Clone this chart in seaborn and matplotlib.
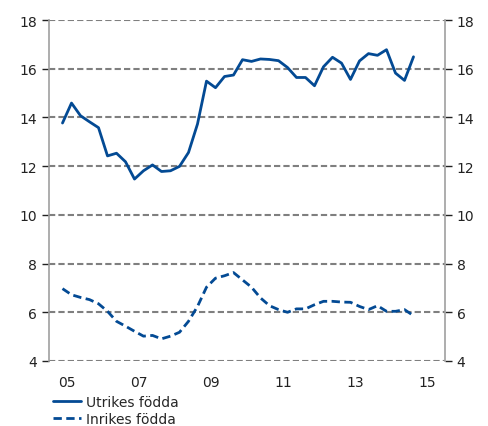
import numpy as np
import matplotlib.pyplot as plt
import seaborn as sns
import pandas as pd

# kvartal 2005K2 - 2015K1
quarters = pd.period_range("2005Q2", "2015Q1", freq="Q")

utrikes = [13.77, 14.59, 14.07, 13.82, 13.58, 12.42, 12.53, 12.18, 11.47, 11.81,
           12.05, 11.78, 11.81, 11.99, 12.56, 13.73, 15.49, 15.22, 15.68, 15.74,
           16.37, 16.30, 16.40, 16.38, 16.33, 16.05, 15.64, 15.64, 15.30, 16.08,
           16.47, 16.23, 15.56, 16.32, 16.62, 16.55, 16.78, 15.82, 15.52, 16.49]

inrikes = [6.97, 6.72, 6.61, 6.52, 6.35, 6.04, 5.63, 5.43, 5.22, 5.02,
           5.05, 4.91, 5.02, 5.18, 5.63, 6.24, 7.03, 7.40, 7.50, 7.63,
           7.33, 7.03, 6.59, 6.27, 6.11, 6.00, 6.14, 6.14, 6.31, 6.45,
           6.45, 6.42, 6.41, 6.24, 6.11, 6.27, 6.04, 6.04, 6.11, 5.86]

series_names = ["Utrikes födda", "Inrikes födda"]
year_labels = ["05", "07", "09", "11", "13", "15"]

x = [q.year + (q.quarter - 0.5) / 4 for q in quarters]
df = pd.DataFrame({
    "tid": x * 2,
    "värde": utrikes + inrikes,
    "serie": [series_names[0]] * len(x) + [series_names[1]] * len(x),
})

sns.set_style("white")
plt.rcParams['font.family'] = ['DejaVu Sans']

blue = "#034a94"
fig = plt.figure(figsize=(4.89, 4.27), dpi=100)
ax = fig.add_axes([49 / 489, 65 / 427, 396 / 489, 341 / 427])

sns.lineplot(data=df, x="tid", y="värde", style="serie", color=blue, linewidth=2,
             dashes={series_names[0]: "", series_names[1]: (3, 1.6)}, ax=ax, legend=False)

ax.set_xlim(2005, 2016)
ax.set_ylim(4, 18)
ax.set_yticks(range(4, 19, 2))
ax.set_xticks(range(2005, 2017))
ax.set_xticklabels([])
ax.set_xticks([2005.5 + 2 * i for i in range(len(year_labels))], minor=True)
ax.set_xticklabels(year_labels, minor=True)
ax.tick_params(axis="x", which="minor", length=0, labelsize=10, pad=10, colors="#222222")
ax.tick_params(axis="x", which="major", length=5, width=1, color="#222222", direction="out")
ax.tick_params(axis="y", left=True, right=True, labelleft=True, labelright=True,
               length=5, width=1, labelsize=10, colors="#222222", direction="out")
ax.set_xlabel("")
ax.set_ylabel("")

for v in range(4, 19, 2):
    ax.axhline(v, color="#7f7f7f", linestyle=(0, (3, 1.5)), linewidth=1.5, zorder=0)

for s in ["top", "bottom"]:
    ax.spines[s].set_visible(False)
for s in ["left", "right"]:
    ax.spines[s].set_color("#a0a0a0")
    ax.spines[s].set_linewidth(1.2)

handles = [plt.Line2D([], [], color=blue, linewidth=2),
           plt.Line2D([], [], color=blue, linewidth=2, linestyle=(0, (3, 1.6)))]
fig.legend(handles, series_names, loc="upper left", bbox_to_anchor=(53 / 489, 1 - 396 / 427),
           frameon=False, fontsize=10, handlelength=2, handletextpad=0.4,
           labelspacing=0.2, borderpad=0, borderaxespad=0)

fig.savefig("out.png", dpi=100)
